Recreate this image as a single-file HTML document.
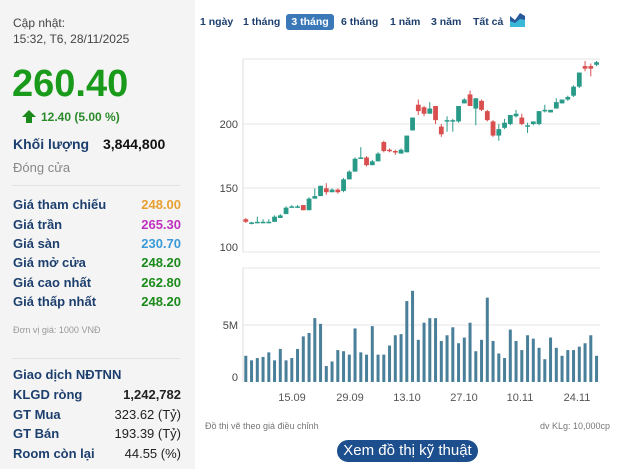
<!DOCTYPE html>
<html><head><meta charset="utf-8"><style>
body{margin:0;width:640px;height:469px;background:#fff;font-family:"Liberation Sans",sans-serif;overflow:hidden;position:relative}
#lp{position:absolute;left:0;top:0;width:195px;height:469px;background:#f4f4f4}
.t{position:absolute;white-space:nowrap}
.lb{color:#1d3f6e;font-weight:bold;font-size:13px}
.v{font-weight:bold;font-size:13px;text-align:right;right:14px}
.hr{position:absolute;left:12px;width:168px;height:1px;background:#e2e2e2}
.tb{position:absolute;top:16px;font-size:10.5px;font-weight:bold;color:#1d3f6e;white-space:nowrap}
</style></head><body>
<div id="lp">
<div class="t" style="left:13px;top:15px;font-size:12px;color:#444;line-height:16px">Cập nhật:<br>15:32, T6, 28/11/2025</div>
<div class="t" style="left:12px;top:63px;font-size:38px;font-weight:bold;color:#1a9a1a">260.40</div>
<div class="t" style="left:22px;top:110px;width:0;height:0;border-left:7px solid transparent;border-right:7px solid transparent;border-bottom:7px solid #1a8a1a"></div>
<div class="t" style="left:26px;top:116px;width:6px;height:7px;background:#1a8a1a"></div>
<div class="t" style="left:41px;top:110px;font-size:12px;font-weight:bold;color:#2a8a2a">12.40 (5.00 %)</div>
<div class="t lb" style="left:13px;top:136px;font-size:14px">Khối lượng</div>
<div class="t" style="left:103px;top:136px;font-size:14px;font-weight:bold;color:#111">3,844,800</div>
<div class="t" style="left:13px;top:160px;font-size:13px;color:#888">Đóng cửa</div>
<div class="hr" style="top:185px"></div>
<div class="t lb" style="left:13px;top:197px">Giá tham chiếu</div><div class="t v" style="top:197px;color:#e8a030">248.00</div>
<div class="t lb" style="left:13px;top:217px">Giá trần</div><div class="t v" style="top:217px;color:#c030c0">265.30</div>
<div class="t lb" style="left:13px;top:236px">Giá sàn</div><div class="t v" style="top:236px;color:#3a9ad8">230.70</div>
<div class="t lb" style="left:13px;top:255px">Giá mở cửa</div><div class="t v" style="top:255px;color:#1a8a1a">248.20</div>
<div class="t lb" style="left:13px;top:275px">Giá cao nhất</div><div class="t v" style="top:275px;color:#1a8a1a">262.80</div>
<div class="t lb" style="left:13px;top:294px">Giá thấp nhất</div><div class="t v" style="top:294px;color:#1a8a1a">248.20</div>
<div class="t" style="left:13px;top:325px;font-size:9px;color:#999">Đơn vị giá: 1000 VNĐ</div>
<div class="hr" style="top:358px"></div>
<div class="t lb" style="left:13px;top:367px">Giao dịch NĐTNN</div>
<div class="t lb" style="left:13px;top:387px">KLGD ròng</div><div class="t v" style="top:387px;color:#222">1,242,782</div>
<div class="t lb" style="left:13px;top:407px">GT Mua</div><div class="t v" style="top:407px;color:#222;font-weight:normal">323.62 (Tỷ)</div>
<div class="t lb" style="left:13px;top:426px">GT Bán</div><div class="t v" style="top:426px;color:#222;font-weight:normal">193.39 (Tỷ)</div>
<div class="t lb" style="left:13px;top:446px">Room còn lại</div><div class="t v" style="top:446px;color:#222;font-weight:normal">44.55 (%)</div>
</div>
<span class="tb" style="left:200px">1 ngày</span>
<span class="tb" style="left:243px">1 tháng</span>
<span class="tb" style="left:286px;top:14px;width:48px;height:16px;line-height:16px;text-align:center;background:#3a78b8;color:#fff;border-radius:3px">3 tháng</span>
<span class="tb" style="left:341px">6 tháng</span>
<span class="tb" style="left:390px">1 năm</span>
<span class="tb" style="left:431px">3 năm</span>
<span class="tb" style="left:473px">Tất cả</span>
<svg class="t" style="left:510px;top:13px" width="15" height="14"><path d="M0 14V3l5 4 5-7 5 3v11z" fill="#2a5a9a"/><path d="M0 14V8l5 2 5-4 5 1v7z" fill="#3ab8d8"/></svg>
<svg id="c" class="t" style="left:0;top:0" width="640" height="469"></svg>
<div class="t" style="left:205px;top:421px;font-size:9px;color:#777">Đồ thị vẽ theo giá điều chỉnh</div>
<div class="t" style="right:30px;top:421px;font-size:9px;color:#777">dv KLg: 10,000cp</div>
<div class="t" style="left:337px;top:440px;width:141px;height:22px;border-radius:11px;background:#1d4f8e;color:#fff;font-size:15px;text-align:center;line-height:22px">Xem đồ thị kỹ thuật</div>
<script>
var s='',G='#2a9a88',R='#d94f4f';
s+='<line x1="243" y1="59" x2="600" y2="59" stroke="#e6e6e6"/>';
[124,188,252].forEach(y=>s+='<line x1="243" y1="'+y+'" x2="600" y2="'+y+'" stroke="#e6e6e6"/>');
s+='<line x1="243" y1="59" x2="243" y2="252" stroke="#ddd"/>';
s+='<line x1="243" y1="268" x2="600" y2="268" stroke="#e6e6e6"/><line x1="243" y1="325" x2="600" y2="325" stroke="#e6e6e6"/><line x1="243" y1="268" x2="243" y2="382" stroke="#ddd"/>';
s+='<g font-size="11" fill="#444" text-anchor="end" font-family="Liberation Sans"><text x="238" y="128">200</text><text x="238" y="192">150</text><text x="238" y="251">100</text><text x="238" y="329">5M</text><text x="238" y="381">0</text></g>';
s+='<g font-size="11" fill="#555" text-anchor="middle" font-family="Liberation Sans">';
[[292,'15.09'],[350,'29.09'],[407,'13.10'],[464,'27.10'],[520,'10.11'],[577,'24.11']].forEach(a=>s+='<text x="'+a[0]+'" y="401">'+a[1]+'</text>');
s+='</g>';
var c=[[126,124,127,123],[123,123.5,124,122],[124,124,128,123],[124,124,126,123],[124,124,126,123],[124,128,129,124],[127,129,130,127],[130,135,136,130],[135,136,137,135],[136,136,137,135],[137,133,137,133],[133,142,143,133],[142,144,150,142],[144,152,152,144],[150,147,154,145],[147,149,150,147],[149,147,150,146],[148,157,158,147],[157,163,164,157],[163,173,174,163],[173,174,182,173],[174,168,175,167],[168,171,172,168],[171,177,178,171],[186,179,187,178],[180,179,181,178],[179,178,180,176],[177,180,181,177],[178,191,191,178],[195,205,205,195],[215,210,219,207],[213,208,214,206],[208,212,217,208],[214,203,214,200],[198,192,200,190],[202,203,206,194],[203,203,204,194],[202,214,214,201],[216,219,220,216],[223,214,226,214],[212,220,220,199],[218,211,219,210],[210,203,211,202],[202,191,203,190],[191,196,200,187],[197,201,204,196],[200,207,207,199],[206,208,211,205],[205,200,208,199],[198,199,201,193],[200,202,202,199],[200,210,210,199],[210,211,215,209],[209,211,211,209],[212,217,220,212],[216,219,219,216],[219,221,222,218],[222,229,230,221],[229,240,240,228],[245,243,249,241],[245,243,247,237],[246,248,249,245]];
var v=[2.3,1.9,2.1,2.2,2.6,1.9,2.9,1.9,2.1,2.9,4.0,4.3,5.6,5.1,1.4,1.8,2.8,2.7,2.4,4.7,2.6,2.4,4.9,2.4,2.4,3.2,4.1,4.2,7.1,8.0,3.7,5.2,5.6,5.6,3.6,4.1,4.8,3.4,3.9,5.2,2.7,3.7,7.4,3.6,2.5,2.1,4.6,3.6,2.8,4.1,3.8,3.0,2.0,3.9,3.0,2.3,2.8,2.8,3.1,3.4,4.1,2.3];
function Y(p){return 124+(200-p)*1.287}
c.forEach((d,i)=>{var x=245.8+i*5.75,col=d[1]>=d[0]?G:R,t=Y(Math.max(d[0],d[1])),b=Y(Math.min(d[0],d[1]));if(b-t<1.5)b=t+1.5;
s+='<line x1="'+x+'" x2="'+x+'" y1="'+Y(d[2])+'" y2="'+Y(d[3])+'" stroke="'+col+'" stroke-width="1"/><rect x="'+(x-2.4)+'" y="'+t+'" width="4.8" height="'+(b-t)+'" fill="'+col+'"/>';});
v.forEach((m,i)=>{var x=245.8+i*5.75,h=m*11.4;s+='<rect x="'+(x-1.5)+'" y="'+(382-h)+'" width="3" height="'+h+'" fill="#4a7f9a"/>';});
document.getElementById('c').innerHTML=s;
</script>
</body></html>
